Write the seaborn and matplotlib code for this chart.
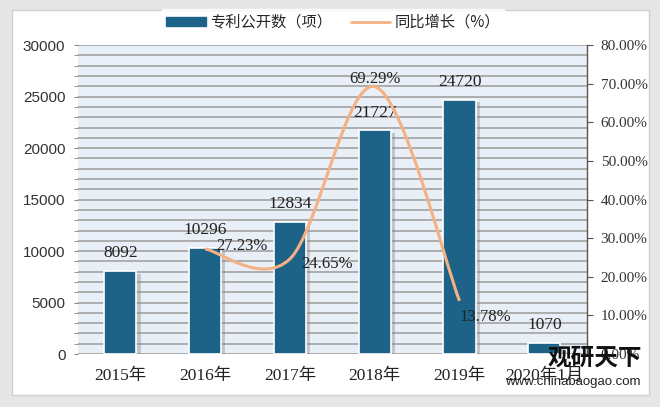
import numpy as np
import matplotlib
matplotlib.use("Agg")
import matplotlib.pyplot as plt
import matplotlib.patheffects as pe
from matplotlib.path import Path
from matplotlib.patches import PathPatch, Rectangle
from matplotlib.lines import Line2D
from matplotlib.ticker import MultipleLocator, FuncFormatter
import seaborn as sns

# 数据
years = ["2015年", "2016年", "2017年", "2018年", "2019年", "2020年1月"]
patents = [8092, 10296, 12834, 21727, 24720, 1070]
growth_idx = [1, 2, 3, 4]
growth = [27.23, 24.65, 69.29, 13.78]

bar_color = "#1d6387"
line_color = "#f4b183"
cjk = ["Noto Sans CJK SC", "DejaVu Sans"]
serif = ["Liberation Serif", "Noto Sans CJK SC"]

sns.set_style("white")
plt.rcParams["font.family"] = cjk

fig = plt.figure(figsize=(6.6, 4.07), dpi=100, facecolor="#e6e6e6")
fig.patches.append(Rectangle((0.018, 0.03), 0.965, 0.945, transform=fig.transFigure,
                             facecolor="white", edgecolor="#d0d0d0", lw=1, zorder=-5))
ax = fig.add_axes([0.118, 0.130, 0.771, 0.759])
ax.set_facecolor("#e9eff7")

sns.barplot(x=years, y=patents, ax=ax, color=bar_color, width=0.38,
            edgecolor="white", linewidth=1.2, saturation=1, zorder=3)
for p in ax.patches:
    p.set_path_effects([pe.SimplePatchShadow(offset=(3, -2), shadow_rgbFace="#888888", alpha=0.4),
                        pe.Normal()])

ax.set_ylim(0, 30000)
ax.set_xlim(-0.5, len(years) - 0.5)
ax.yaxis.set_major_locator(MultipleLocator(5000))
ax.yaxis.set_minor_locator(MultipleLocator(1000))
ax.grid(axis="y", which="both", color="#a8a8a8", lw=1.3, zorder=0)
ax.set_axisbelow(True)
for s in ax.spines.values():
    s.set_visible(False)
ax.tick_params(axis="y", which="both", left=True, length=3, color="#888888", labelsize=11, pad=6)
ax.tick_params(axis="x", length=0, pad=10)
for t in ax.get_yticklabels():
    t.set_family(["Liberation Sans", "DejaVu Sans"])
    t.set_color("#333333")
for t in ax.get_xticklabels():
    t.set_family(serif)
    t.set_fontsize(12.5)
    t.set_color("#222222")
ax.set_xlabel("")
ax.set_ylabel("")

for i, v in enumerate(patents):
    ax.annotate(str(v), (i, v), xytext=(0, 7), textcoords="offset points",
                ha="center", va="bottom", fontsize=12.5, family=serif, color="#222222")

# 右轴：同比增长，平滑曲线
ax2 = ax.twinx()
ax2.set_ylim(0, 80)
ax2.yaxis.set_major_locator(MultipleLocator(10))
ax2.yaxis.set_major_formatter(FuncFormatter(lambda v, _: f"{v:.2f}%"))
for s in ax2.spines.values():
    s.set_visible(False)
ax2.spines["right"].set_visible(True)
ax2.spines["right"].set_color("#555555")
ax2.spines["right"].set_linewidth(1)
ax2.tick_params(axis="y", length=4, color="#555555", labelsize=11, pad=6)
for t in ax2.get_yticklabels():
    t.set_family(serif)
    t.set_color("#333333")
ax2.grid(False)

pts = list(zip(growth_idx, growth))
verts = [pts[0]]
codes = [Path.MOVETO]
n = len(pts)
for k in range(n - 1):
    p0 = pts[max(k - 1, 0)]
    p1, p2 = pts[k], pts[k + 1]
    p3 = pts[min(k + 2, n - 1)]
    c1 = (p1[0] + (p2[0] - p0[0]) / 6, p1[1] + (p2[1] - p0[1]) / 6)
    c2 = (p2[0] - (p3[0] - p1[0]) / 6, p2[1] - (p3[1] - p1[1]) / 6)
    verts += [c1, c2, p2]
    codes += [Path.CURVE4] * 3
ax2.add_patch(PathPatch(Path(verts, codes), facecolor="none", edgecolor=line_color,
                        lw=2.2, zorder=5))

offsets = [((8, 2), "left", "center"), ((8, -4), "left", "center"),
           ((0, 0), "center", "bottom"), ((0, -6), "left", "top")]
for (xi, yi), (off, ha, va) in zip(pts, offsets):
    ax2.annotate(f"{yi:.2f}%", (xi, yi), xytext=off, textcoords="offset points",
                 ha=ha, va=va, fontsize=12, family=serif, color="#222222", zorder=6)

handles = [Rectangle((0, 0), 1, 1, color=bar_color),
           Line2D([0], [0], color=line_color, lw=2)]
leg = fig.legend(handles, ["专利公开数（项）", "同比增长（%）"], loc="center",
                 bbox_to_anchor=(0.505, 0.945), ncol=2, frameon=True, fontsize=11,
                 handlelength=2.6, handleheight=0.5, columnspacing=1.2, handletextpad=0.3,
                 borderpad=0.3)
leg.get_frame().set_edgecolor("white")
leg.get_frame().set_facecolor("white")

# 水印
fig.text(0.83, 0.122, "观研天下", fontsize=17, fontweight="bold", color="#111111",
         ha="left", va="center", family=cjk)
fig.text(0.765, 0.062, "www.chinabaogao.com", fontsize=9.5, color="#222222",
         ha="left", va="center", family=["Liberation Sans", "DejaVu Sans"])

fig.savefig("out.png", dpi=100, facecolor=fig.get_facecolor())
